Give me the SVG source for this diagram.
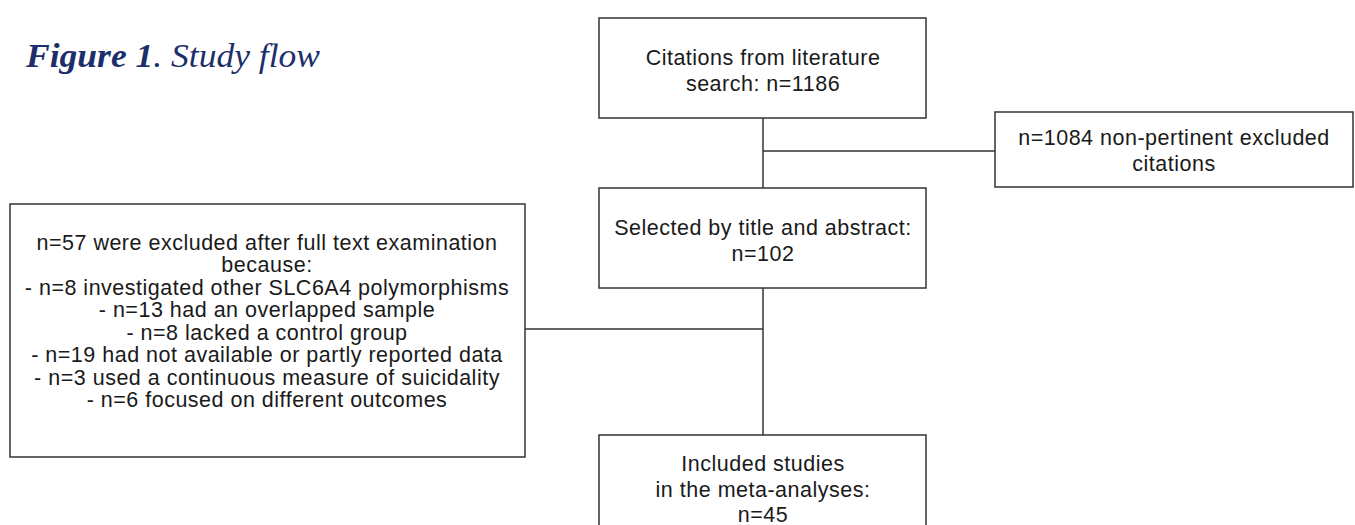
<svg xmlns="http://www.w3.org/2000/svg" width="1355" height="525" viewBox="0 0 1355 525">
<style>
.box{fill:#fff;stroke:#333;stroke-width:1.5}
.t{font-family:"Liberation Sans",Arial,sans-serif;font-size:21.5px;letter-spacing:0.5px;fill:#1a1a1a;text-anchor:middle}
.c{fill:none;stroke:#333;stroke-width:1.5}
.title{font-family:"Liberation Serif","Times New Roman",serif;font-style:italic;font-size:33px;fill:#1c2f6b}
</style>
<rect width="1355" height="525" fill="#fff"/>
<text class="title" x="26" y="67" textLength="294" lengthAdjust="spacingAndGlyphs"><tspan font-weight="bold">Figure 1</tspan>. Study flow</text>
<g id="connectors">
<line class="c" x1="763" y1="118" x2="763" y2="188"/>
<line class="c" x1="763" y1="151" x2="995" y2="151"/>
<line class="c" x1="763" y1="288" x2="763" y2="435"/>
<line class="c" x1="525" y1="329" x2="763" y2="329"/>
</g>
<g id="n1">
<rect class="box" x="599" y="18" width="327" height="100"/>
<text class="t" x="763" y="64.5">Citations from literature</text>
<text class="t" x="763" y="91">search: n=1186</text>
</g>
<g id="n2">
<rect class="box" x="995" y="112" width="358" height="75"/>
<text class="t" x="1174" y="145">n=1084 non-pertinent excluded</text>
<text class="t" x="1174" y="170.5">citations</text>
</g>
<g id="n3">
<rect class="box" x="599" y="188" width="327" height="100"/>
<text class="t" x="763" y="234.5">Selected by title and abstract:</text>
<text class="t" x="763" y="260.5">n=102</text>
</g>
<g id="n4">
<rect class="box" x="10" y="204" width="515" height="253"/>
<text class="t" x="267" y="249.5">n=57 were excluded after full text examination</text>
<text class="t" x="267" y="272">because:</text>
<text class="t" x="267" y="294.5">- n=8 investigated other SLC6A4 polymorphisms</text>
<text class="t" x="267" y="317">- n=13 had an overlapped sample</text>
<text class="t" x="267" y="339.5">- n=8 lacked a control group</text>
<text class="t" x="267" y="362">- n=19 had not available or partly reported data</text>
<text class="t" x="267" y="384.5">- n=3 used a continuous measure of suicidality</text>
<text class="t" x="267" y="407">- n=6 focused on different outcomes</text>
</g>
<g id="n5">
<rect class="box" x="599" y="435" width="327" height="100"/>
<text class="t" x="763" y="470.5">Included studies</text>
<text class="t" x="763" y="496.5">in the meta-analyses:</text>
<text class="t" x="763" y="521.5">n=45</text>
</g>
</svg>
